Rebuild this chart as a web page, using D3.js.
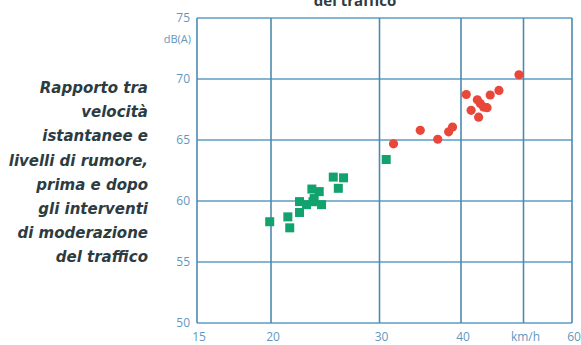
<!DOCTYPE html>
<html><head><meta charset="utf-8">
<script src="https://cdn.jsdelivr.net/npm/d3@7"></script>
<style>
html,body{margin:0;padding:0;background:#fff;}
svg{display:block;}
</style></head>
<body>
<svg id="chart" width="581" height="345"></svg>
<script>
// ---- data ----
const xTicks = [15, 20, 30, 40, 50, 60];
const xTickLabels = ["15", "20", "30", "40", "km/h", "60"];
const yTicks = [50, 55, 60, 65, 70, 75];
const yTickLabels = ["50", "55", "60", "65", "70", "75"];
const yUnit = "dB(A)";
const title = "del traffico";
const caption = ["Rapporto tra", "velocità", "istantanee e", "livelli di rumore,", "prima e dopo", "gli interventi", "di moderazione", "del traffico"];

// "dopo" (after traffic calming) – green squares
const afterSpeed = [19.9, 21.3, 21.45, 22.25, 22.25, 22.84, 23.3, 23.95, 23.5, 23.4, 24.16, 25.24, 26.23, 25.72, 30.72];
const afterNoise = [58.3, 58.7, 57.8, 59.06, 59.95, 59.7, 60.98, 60.77, 60.2, 59.94, 59.7, 61.96, 61.9, 61.04, 63.4];
// "prima" (before) – red dots
const beforeSpeed = [49.2, 40.76, 45.8, 44.4, 42.4, 43.36, 41.47, 42.6, 43.9, 42.85, 34.64, 31.52, 36.85, 38.29, 38.82];
const beforeNoise = [70.35, 68.73, 69.06, 68.69, 68.3, 67.7, 67.43, 66.87, 67.65, 67.99, 65.79, 64.69, 65.06, 65.67, 66.06];

// ---- layout ----
const svg = d3.select("#chart");
const mLeft = 197, mRight = 572, mTop = 18, mBottom = 323;

// piecewise log scale to follow the printed grid
const x = d3.scaleLog().domain(xTicks).range([mLeft, 271, 379.5, 461, 523.5, mRight]);
const y = d3.scaleLinear().domain([50, 75]).range([mBottom, mTop]);

const gridCol = "#5d9cc3";
const labCol = "#5f98bf";

// horizontal grid
svg.append("g").selectAll("line").data(yTicks).join("line")
  .attr("x1", mLeft).attr("x2", mRight)
  .attr("y1", d => y(d)).attr("y2", d => y(d))
  .attr("stroke", gridCol).attr("stroke-width", 1.5);
// vertical grid
svg.append("g").selectAll("line").data(xTicks).join("line")
  .attr("x1", d => x(d)).attr("x2", d => x(d))
  .attr("y1", mTop).attr("y2", mBottom)
  .attr("stroke", "#4f8aae").attr("stroke-width", 1.6);

// y tick labels
svg.append("g").selectAll("text").data(yTicks).join("text")
  .attr("x", mLeft - 7).attr("y", d => y(d))
  .attr("dy", "0.35em").attr("text-anchor", "end")
  .attr("font-family", "'Open Sans', sans-serif").attr("font-size", 12)
  .attr("fill", labCol)
  .text((d, i) => yTickLabels[i]);
svg.append("text").attr("x", mLeft - 6).attr("y", y(75) + 21)
  .attr("dy", "0.35em").attr("text-anchor", "end")
  .attr("font-family", "'Open Sans', sans-serif").attr("font-size", 11)
  .attr("fill", labCol).text(yUnit);

// x tick labels
svg.append("g").selectAll("text").data(xTicks).join("text")
  .attr("x", d => x(d) + 2).attr("y", 341)
  .attr("text-anchor", "middle")
  .attr("font-family", "'Open Sans', sans-serif").attr("font-size", 12)
  .attr("fill", labCol)
  .text((d, i) => xTickLabels[i]);

// points
svg.append("g").selectAll("rect").data(afterSpeed).join("rect")
  .attr("x", (d, i) => x(d) - 4.5).attr("y", (d, i) => y(afterNoise[i]) - 4.5)
  .attr("width", 9).attr("height", 9)
  .attr("fill", "#12a26e");
svg.append("g").selectAll("circle").data(beforeSpeed).join("circle")
  .attr("cx", d => x(d)).attr("cy", (d, i) => y(beforeNoise[i]))
  .attr("r", 4.6).attr("fill", "#e8473a");

// title (cropped at top, as in the source)
svg.append("text").attr("x", 355).attr("y", 6)
  .attr("text-anchor", "middle")
  .attr("font-family", "'Open Sans', sans-serif").attr("font-weight", "bold")
  .attr("font-size", 15).attr("fill", "#2d3b42").text(title);

// caption
svg.append("g").selectAll("text").data(caption).join("text")
  .attr("x", 148).attr("y", (d, i) => 93 + i * 24.2)
  .attr("text-anchor", "end")
  .attr("font-family", "'DejaVu Sans', sans-serif").attr("font-weight", "bold")
  .attr("font-style", "italic").attr("font-size", 15)
  .attr("fill", "#2d3b42")
  .text(d => d);
</script>
</body></html>
